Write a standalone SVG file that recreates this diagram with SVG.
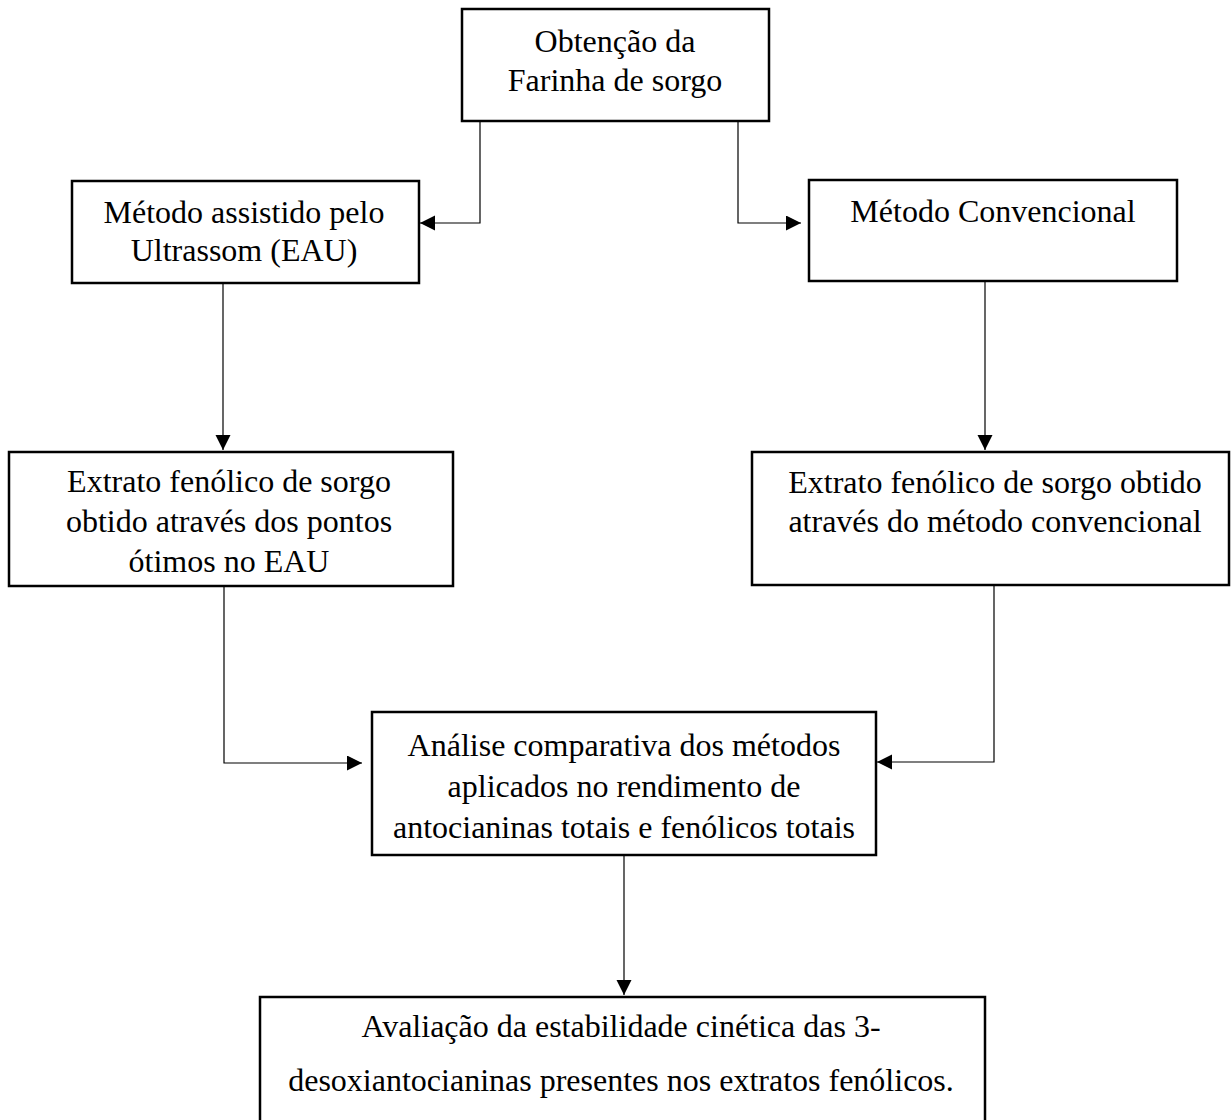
<svg xmlns="http://www.w3.org/2000/svg" width="1232" height="1120" viewBox="0 0 1232 1120">
  <style>
    .box { fill: #ffffff; stroke: #000000; stroke-width: 2.5; }
    .lbl { font-family: "Liberation Serif", "Times New Roman", serif; font-size: 32px; fill: #000000; text-anchor: middle; }
    .conn { fill: none; stroke: #000000; stroke-width: 1.2; }
  </style>
  <defs>
    <marker id="arrow" markerUnits="userSpaceOnUse" markerWidth="16" markerHeight="16" refX="15" refY="7.5" orient="auto">
      <path d="M0,0 L15,7.5 L0,15 Z" fill="#000000"/>
    </marker>
  </defs>
  <rect width="1232" height="1120" fill="#ffffff"/>

  <g id="connectors">
    <polyline class="conn" points="480,121 480,223 420,223" marker-end="url(#arrow)"/>
    <polyline class="conn" points="738,121 738,223 801,223" marker-end="url(#arrow)"/>
    <polyline class="conn" points="223,283 223,450" marker-end="url(#arrow)"/>
    <polyline class="conn" points="985,281 985,450" marker-end="url(#arrow)"/>
    <polyline class="conn" points="224,586 224,763 362,763" marker-end="url(#arrow)"/>
    <polyline class="conn" points="994,585 994,762 877,762" marker-end="url(#arrow)"/>
    <polyline class="conn" points="624,855 624,995" marker-end="url(#arrow)"/>
  </g>

  <g id="node-obtencao">
    <rect class="box" x="462" y="9" width="307" height="112"/>
    <text class="lbl" x="615" y="52">Obtenção da</text>
    <text class="lbl" x="615" y="91">Farinha de sorgo</text>
  </g>

  <g id="node-eau">
    <rect class="box" x="72" y="181" width="347" height="102"/>
    <text class="lbl" x="244" y="223">Método assistido pelo</text>
    <text class="lbl" x="244" y="261">Ultrassom (EAU)</text>
  </g>

  <g id="node-convencional">
    <rect class="box" x="809" y="180" width="368" height="101"/>
    <text class="lbl" x="993" y="222">Método Convencional</text>
  </g>

  <g id="node-extrato-eau">
    <rect class="box" x="9" y="452" width="444" height="134"/>
    <text class="lbl" x="229" y="492">Extrato fenólico de sorgo</text>
    <text class="lbl" x="229" y="532">obtido através dos pontos</text>
    <text class="lbl" x="229" y="572">ótimos no EAU</text>
  </g>

  <g id="node-extrato-conv">
    <rect class="box" x="752" y="452" width="477" height="133"/>
    <text class="lbl" x="995" y="493">Extrato fenólico de sorgo obtido</text>
    <text class="lbl" x="995" y="532">através do método convencional</text>
  </g>

  <g id="node-analise">
    <rect class="box" x="372" y="712" width="504" height="143"/>
    <text class="lbl" x="624" y="756">Análise comparativa dos métodos</text>
    <text class="lbl" x="624" y="797">aplicados no rendimento de</text>
    <text class="lbl" x="624" y="838">antocianinas totais e fenólicos totais</text>
  </g>

  <g id="node-avaliacao">
    <rect class="box" x="260" y="997" width="725" height="140"/>
    <text class="lbl" x="621" y="1037">Avaliação da estabilidade cinética das 3-</text>
    <text class="lbl" x="621" y="1091">desoxiantocianinas presentes nos extratos fenólicos.</text>
  </g>
</svg>
